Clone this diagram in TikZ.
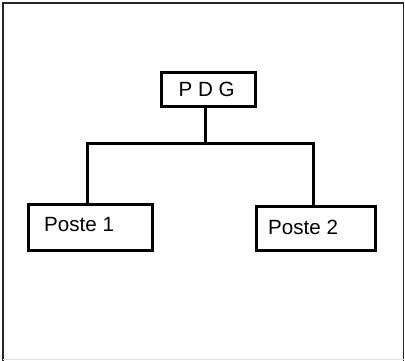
\documentclass[tikz,border=0pt]{standalone}
\usepackage{fontspec}
\setmainfont{Liberation Sans}
\begin{document}
\begin{tikzpicture}[x=1pt,y=-1pt,
  box/.style={draw=black,line width=3pt,fill=white},
  conn/.style={draw=black,line width=3pt},
  lbl/.style={anchor=base west,inner sep=0pt,font=\fontsize{20.6}{24}\selectfont}]
\useasboundingbox (0,0) rectangle (405,361);
% frame
\draw[line width=1.5pt,black!85] (3,361) -- (3,3) -- (403.5,3) -- (403.5,361);
\draw[line width=1pt,black!12] (3,359.5) -- (403.5,359.5);
% boxes
\path[box] (161,73) rectangle (255,107);
\coordinate (pdgS) at (205,107);
\path[box] (28,204) rectangle (152,250);
\coordinate (p1N) at (87,204);
\path[box] (256,206) rectangle (375,250);
\coordinate (p2N) at (313,206);
\coordinate (bus) at (205,144);
% connectors
\draw[conn] (pdgS) -- (bus);
\draw[conn] (p1N) -- (87,144) -- (313,144) -- (p2N);
% labels
\node[lbl] (tpdg) at (178.5,97) {P D G};
\node[lbl] (tp1) at (44,232) {Poste 1};
\node[lbl] (tp2) at (268,234) {Poste 2};
\end{tikzpicture}
\end{document}
